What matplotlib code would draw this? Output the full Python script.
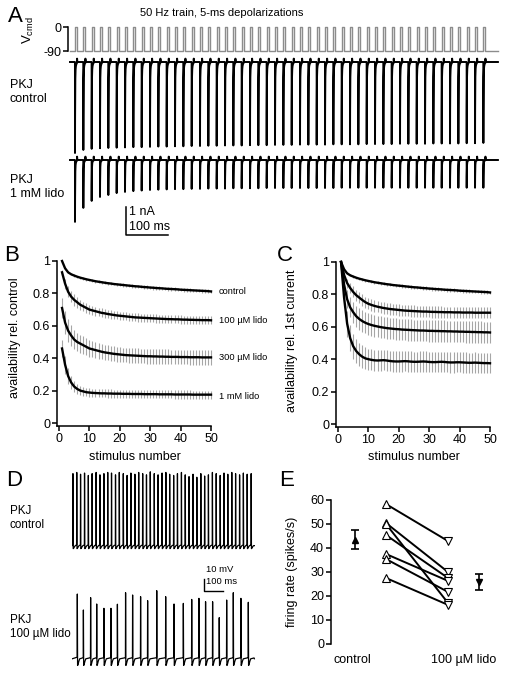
import numpy as np
import matplotlib
matplotlib.use("Agg")
import matplotlib.pyplot as plt

plt.rcParams['font.family'] = ['Liberation Sans', 'DejaVu Sans']
plt.rcParams['mathtext.fontset'] = 'custom'
plt.rcParams['mathtext.rm'] = 'Liberation Sans'
plt.rcParams['mathtext.it'] = 'Liberation Sans:italic'
plt.rcParams['axes.linewidth'] = 1.1
for a in ('xtick', 'ytick'):
    plt.rcParams[a + '.major.width'] = 1.1
    plt.rcParams[a + '.major.size'] = 3.5
    plt.rcParams[a + '.labelsize'] = 9
    plt.rcParams[a + '.direction'] = 'out'

# ---------------- data ----------------
# A: 50 Hz train of 5-ms steps, peak currents per pulse (nA)
n_pulses, period_ms, step_ms, first_ms = 50, 20, 5, 12
ctrl_amp = [3.25, 3.14, 3.10, 3.08, 3.07, 3.06, 3.05, 3.04, 3.04, 3.03,
            3.02, 3.02, 3.01, 3.01, 3.00, 3.00, 2.99, 2.99, 2.98, 2.98,
            2.98, 2.97, 2.97, 2.97, 2.96, 2.96, 2.96, 2.95, 2.95, 2.95,
            2.95, 2.94, 2.94, 2.94, 2.94, 2.93, 2.93, 2.93, 2.93, 2.92,
            2.92, 2.92, 2.92, 2.91, 2.91, 2.91, 2.91, 2.90, 2.90, 2.89]
lido_amp = [2.21, 1.71, 1.46, 1.32, 1.25, 1.18, 1.14, 1.11, 1.09, 1.07,
            1.06, 1.05, 1.04, 1.04, 1.03, 1.03, 1.02, 1.02, 1.02, 1.01,
            1.01, 1.01, 1.01, 1.00, 1.00, 1.00, 1.00, 1.00, 1.00, 1.00,
            1.00, 1.00, 0.99, 0.99, 0.99, 0.99, 0.99, 0.99, 0.99, 0.99,
            0.99, 0.99, 0.99, 0.99, 0.99, 0.99, 0.99, 0.99, 0.99, 0.99]

# B: availability relative to control
stim = np.arange(1, 51)
b_ctrl = [1.000, 0.955, 0.930, 0.918, 0.910, 0.903, 0.897, 0.892, 0.887, 0.883,
          0.879, 0.875, 0.872, 0.869, 0.866, 0.863, 0.861, 0.858, 0.856, 0.854,
          0.852, 0.850, 0.848, 0.846, 0.844, 0.843, 0.841, 0.839, 0.838, 0.836,
          0.835, 0.833, 0.832, 0.831, 0.829, 0.828, 0.827, 0.826, 0.825, 0.823,
          0.822, 0.821, 0.820, 0.819, 0.818, 0.817, 0.816, 0.815, 0.814, 0.812]
b_ctrl_sd = [0.004, 0.005, 0.006, 0.006, 0.007, 0.007, 0.007, 0.008, 0.008, 0.008,
             0.008, 0.008, 0.009, 0.009, 0.009, 0.009, 0.009, 0.009, 0.010, 0.010,
             0.010, 0.010, 0.010, 0.010, 0.010, 0.010, 0.010, 0.010, 0.011, 0.011,
             0.011, 0.011, 0.011, 0.011, 0.011, 0.011, 0.011, 0.011, 0.011, 0.011,
             0.011, 0.011, 0.011, 0.011, 0.011, 0.011, 0.011, 0.011, 0.011, 0.011]
b_100 = [0.930, 0.860, 0.810, 0.780, 0.760, 0.745, 0.730, 0.720, 0.710, 0.700,
         0.695, 0.690, 0.685, 0.680, 0.677, 0.673, 0.670, 0.667, 0.664, 0.662,
         0.660, 0.658, 0.656, 0.654, 0.652, 0.651, 0.650, 0.649, 0.648, 0.647,
         0.646, 0.645, 0.644, 0.643, 0.642, 0.641, 0.641, 0.640, 0.640, 0.639,
         0.638, 0.638, 0.637, 0.637, 0.636, 0.636, 0.635, 0.635, 0.635, 0.634]
b_100_sd = [0.015, 0.030, 0.035, 0.035, 0.035, 0.033, 0.032, 0.030, 0.030, 0.029,
            0.028, 0.028, 0.027, 0.027, 0.026, 0.026, 0.026, 0.025, 0.025, 0.025,
            0.025, 0.025, 0.025, 0.025, 0.025, 0.025, 0.025, 0.025, 0.025, 0.025,
            0.025, 0.025, 0.025, 0.025, 0.025, 0.025, 0.025, 0.025, 0.025, 0.025,
            0.025, 0.025, 0.025, 0.025, 0.025, 0.025, 0.025, 0.025, 0.025, 0.025]
b_300 = [0.710, 0.620, 0.570, 0.540, 0.515, 0.500, 0.490, 0.480, 0.470, 0.460,
         0.455, 0.450, 0.445, 0.440, 0.436, 0.433, 0.430, 0.427, 0.425, 0.423,
         0.421, 0.419, 0.418, 0.417, 0.416, 0.415, 0.414, 0.413, 0.412, 0.412,
         0.411, 0.411, 0.410, 0.410, 0.409, 0.409, 0.408, 0.408, 0.408, 0.407,
         0.407, 0.407, 0.406, 0.406, 0.406, 0.406, 0.405, 0.405, 0.405, 0.405]
b_300_sd = [0.060, 0.070, 0.070, 0.065, 0.060, 0.058, 0.056, 0.054, 0.052, 0.050,
            0.050, 0.049, 0.048, 0.048, 0.047, 0.047, 0.046, 0.046, 0.046, 0.045,
            0.045, 0.045, 0.045, 0.045, 0.045, 0.045, 0.045, 0.045, 0.045, 0.045,
            0.045, 0.045, 0.045, 0.045, 0.045, 0.045, 0.045, 0.045, 0.045, 0.045,
            0.045, 0.045, 0.045, 0.045, 0.045, 0.045, 0.045, 0.045, 0.045, 0.045]
b_1mm = [0.460, 0.360, 0.290, 0.250, 0.225, 0.210, 0.200, 0.195, 0.190, 0.188,
         0.186, 0.185, 0.184, 0.183, 0.183, 0.182, 0.182, 0.181, 0.181, 0.181,
         0.180, 0.180, 0.180, 0.179, 0.179, 0.179, 0.179, 0.178, 0.178, 0.178,
         0.178, 0.178, 0.177, 0.177, 0.177, 0.177, 0.177, 0.176, 0.176, 0.176,
         0.176, 0.176, 0.176, 0.175, 0.175, 0.175, 0.175, 0.175, 0.175, 0.175]
b_1mm_sd = [0.050, 0.055, 0.050, 0.040, 0.035, 0.030, 0.028, 0.027, 0.026, 0.025,
            0.025, 0.025, 0.025, 0.025, 0.025, 0.025, 0.025, 0.025, 0.025, 0.025,
            0.025, 0.025, 0.025, 0.025, 0.025, 0.025, 0.025, 0.025, 0.025, 0.025,
            0.025, 0.025, 0.025, 0.025, 0.025, 0.025, 0.025, 0.025, 0.025, 0.025,
            0.025, 0.025, 0.025, 0.025, 0.025, 0.025, 0.025, 0.025, 0.025, 0.025]
b_labels = ['control', '100 µM lido', '300 µM lido', '1 mM lido']

# C: availability relative to 1st current
c_100 = [1.000, 0.920, 0.870, 0.840, 0.815, 0.795, 0.780, 0.765, 0.752, 0.742,
         0.735, 0.729, 0.724, 0.720, 0.716, 0.713, 0.710, 0.708, 0.706, 0.704,
         0.702, 0.700, 0.699, 0.698, 0.697, 0.696, 0.695, 0.694, 0.694, 0.693,
         0.692, 0.692, 0.691, 0.691, 0.690, 0.690, 0.690, 0.689, 0.689, 0.689,
         0.688, 0.688, 0.688, 0.688, 0.687, 0.687, 0.687, 0.687, 0.687, 0.687]
c_100_sd = [0.000, 0.020, 0.028, 0.032, 0.034, 0.035, 0.035, 0.035, 0.035, 0.035,
            0.035, 0.035, 0.035, 0.035, 0.035, 0.035, 0.035, 0.035, 0.035, 0.035,
            0.035, 0.035, 0.035, 0.035, 0.035, 0.035, 0.035, 0.035, 0.035, 0.035,
            0.035, 0.035, 0.035, 0.035, 0.035, 0.035, 0.035, 0.035, 0.035, 0.035,
            0.035, 0.035, 0.035, 0.035, 0.035, 0.035, 0.035, 0.035, 0.035, 0.035]
c_300 = [1.000, 0.860, 0.770, 0.720, 0.690, 0.665, 0.648, 0.635, 0.625, 0.617,
         0.611, 0.606, 0.602, 0.598, 0.595, 0.592, 0.590, 0.588, 0.586, 0.585,
         0.583, 0.582, 0.581, 0.580, 0.579, 0.578, 0.577, 0.577, 0.576, 0.575,
         0.575, 0.574, 0.574, 0.573, 0.573, 0.572, 0.572, 0.571, 0.571, 0.570,
         0.570, 0.569, 0.569, 0.568, 0.568, 0.567, 0.567, 0.566, 0.566, 0.565]
c_300_sd = [0.000, 0.040, 0.055, 0.062, 0.065, 0.066, 0.066, 0.066, 0.066, 0.066,
            0.066, 0.066, 0.066, 0.066, 0.066, 0.066, 0.066, 0.066, 0.066, 0.066,
            0.066, 0.066, 0.066, 0.066, 0.066, 0.066, 0.066, 0.066, 0.066, 0.066,
            0.066, 0.066, 0.066, 0.066, 0.066, 0.066, 0.066, 0.066, 0.066, 0.066,
            0.066, 0.066, 0.066, 0.066, 0.066, 0.066, 0.066, 0.066, 0.066, 0.066]
c_1mm = [1.000, 0.780, 0.620, 0.530, 0.480, 0.450, 0.430, 0.415, 0.405, 0.400,
         0.396, 0.393, 0.392, 0.393, 0.394, 0.392, 0.389, 0.387, 0.386, 0.386,
         0.387, 0.388, 0.387, 0.385, 0.384, 0.384, 0.385, 0.386, 0.385, 0.383,
         0.382, 0.382, 0.383, 0.384, 0.383, 0.381, 0.380, 0.380, 0.381, 0.381,
         0.380, 0.379, 0.378, 0.378, 0.379, 0.378, 0.377, 0.376, 0.376, 0.375]
c_1mm_sd = [0.000, 0.060, 0.080, 0.080, 0.078, 0.075, 0.072, 0.070, 0.068, 0.066,
            0.065, 0.064, 0.064, 0.063, 0.063, 0.063, 0.063, 0.063, 0.063, 0.063,
            0.063, 0.063, 0.063, 0.063, 0.063, 0.063, 0.063, 0.063, 0.063, 0.063,
            0.063, 0.063, 0.063, 0.063, 0.063, 0.063, 0.063, 0.063, 0.063, 0.063,
            0.063, 0.063, 0.063, 0.063, 0.063, 0.063, 0.063, 0.063, 0.063, 0.063]

# D: spike times (ms) and peak voltages (mV)
d_ctrl_t = [5, 25, 45, 66, 86, 106, 127, 147, 168, 188, 208, 229, 249, 270, 290, 310,
            331, 351, 372, 392, 412, 433, 453, 474, 494, 514, 535, 555, 576, 596, 616,
            637, 657, 678, 698, 718, 739, 759, 780, 800, 820, 841, 861, 882, 902, 922, 943]
d_ctrl_v = [2.0, 3.0, 1.5, 2.5, 0.5, 2.0, 3.0, 1.0, 2.0, 3.0, 2.5, 1.0, 3.0, 2.0, 0.5, 2.5,
            1.5, 3.0, 2.0, 1.0, 3.5, 2.0, 1.0, 2.5, 3.0, 1.5, 0.5, 2.0, 3.0, 1.0, -0.5,
            1.5, -1.0, 2.0, 0.0, 1.0, 3.0, 2.0, 0.5, 2.5, 1.5, 3.0, 2.0, 1.0, 2.5, 1.5, 2.0]
d_lido_t = [28, 60, 98, 130, 168, 205, 239, 282, 319, 361, 398, 446, 493, 537, 586,
            630, 668, 703, 740, 775, 814, 849, 889, 928]
d_lido_v = [-2.5, -15.8, -5.5, -10.8, -14.4, -14.4, -11.0, -1.4, -3.3, -4.7, -8.0, 0.3,
            -4.7, -10.8, -10.3, -7.0, -6.1, -8.9, -8.9, -22.2, -7.5, -1.4, -6.1, -9.4]

# E: firing rate (spikes/s), paired cells
e_ctrl = [58.3, 50.4, 50.0, 45.4, 37.5, 35.4, 27.5]
e_lido = [42.9, 30.0, 17.1, 27.5, 26.3, 21.7, 16.3]
e_mean = [43.5, 25.8]
e_sem = [4.1, 3.5]
e_groups = ['control', '100 µM lido']

# ---------------- figure ----------------
W, H = 505, 673
fig = plt.figure(figsize=(W / 100, H / 100), dpi=100)


def box(l, t, r, b):
    return [l / W, 1 - b / H, (r - l) / W, (b - t) / H]


def bare(ax):
    for s in ax.spines.values():
        s.set_visible(False)
    ax.set_xticks([]); ax.set_yticks([])
    ax.patch.set_visible(False)


PX_MS = 0.4167  # panel A time scale (px per ms)
xl_A = (-2 / PX_MS, (500 - 70) / PX_MS)

# A: command voltage
ax = fig.add_axes(box(68, 27, 500, 51))
ax.patch.set_visible(False)
on = first_ms + period_ms * np.arange(n_pulses)
tv = np.concatenate([[0], np.repeat(np.column_stack([on, on + step_ms]).ravel(), 2), [1027]])
vv = np.concatenate([[-90], np.tile([-90, 0, 0, -90], n_pulses), [-90]])
ax.plot(tv, vv, color='#8c8c8c', lw=1.0, clip_on=False)
ax.set_xlim(*xl_A); ax.set_ylim(-90, 0)
for s in ('top', 'right', 'bottom'):
    ax.spines[s].set_visible(False)
ax.set_xticks([])
ax.set_yticks([-90, 0]); ax.set_yticklabels(['-90', '0'])
ax.tick_params(axis='y', pad=1)


def current_trace(amps):
    t = np.arange(0, 1027, 0.1)
    i = np.zeros_like(t)
    for k, a in enumerate(amps):
        dt = t - on[k]
        m = (dt >= 0) & (dt < step_ms)
        i[m] -= a * (0.85 * np.exp(-dt[m] / 0.35) + 0.15 * np.exp(-dt[m] / 1.8))
        m2 = (dt >= step_ms) & (dt < step_ms + 2)
        i[m2] += 0.12 * np.exp(-(dt[m2] - step_ms) / 0.3)
    return t, i


for amps, (top, bot, base) in ((ctrl_amp, (55, 160, 62)), (lido_amp, (153, 240, 160))):
    ax = fig.add_axes(box(68, top, 500, bot))
    bare(ax)
    t, i = current_trace(amps)
    ax.plot(t, i, color='k', lw=1.4)
    ax.set_xlim(*xl_A)
    ax.set_ylim(-(bot - base) / 28, (base - top) / 28)
    if amps is lido_amp:
        t0 = (126 - 70) / PX_MS
        yb = -(235 - base) / 28
        ax.plot([t0, t0, t0 + 100], [yb + 1, yb, yb], color='k', lw=1.1, clip_on=False)
        ax.text(t0 + 8, yb + 0.82, '1 nA', fontsize=9, va='center')
        ax.text(t0 + 8, yb + 0.30, '100 ms', fontsize=9, va='center')


# B and C
def avail(ax, curves):
    for m, sd in curves:
        ax.errorbar(stim, m, yerr=sd, fmt='none', ecolor='#a6a6a6', elinewidth=0.8,
                    capsize=0, zorder=1, clip_on=False)
    for m, sd in curves:
        ax.plot(stim, m, color='k', lw=1.7, zorder=3, clip_on=False)
    ax.set_xlim(-0.66, 50.33)
    ax.set_ylim(-0.0185, 1)
    ax.spines['top'].set_visible(False); ax.spines['right'].set_visible(False)
    ax.spines['bottom'].set_bounds(-0.66, 50)
    ax.set_xticks([0, 10, 20, 30, 40, 50])
    ax.set_yticks([0, 0.2, 0.4, 0.6, 0.8, 1.0])
    ax.set_yticklabels(['0', '0.2', '0.4', '0.6', '0.8', '1'])
    ax.tick_params(pad=1.5)
    ax.patch.set_visible(False)


axB = fig.add_axes(box(57, 261, 212, 426))
avail(axB, [(b_ctrl, b_ctrl_sd), (b_100, b_100_sd), (b_300, b_300_sd), (b_1mm, b_1mm_sd)])
for lab, m, dy in zip(b_labels, (b_ctrl, b_100, b_300, b_1mm), (0, 0, 0, -0.01)):
    axB.text(52.5, m[-1] + dy, lab, fontsize=6.7, va='center', ha='left')

axC = fig.add_axes(box(336, 262, 491, 427))
avail(axC, [(b_ctrl, b_ctrl_sd), (c_100, c_100_sd), (c_300, c_300_sd), (c_1mm, c_1mm_sd)])


# D: current clamp traces
D_PX_MS = 0.19


def vm_trace(times, peaks, t_end, trough, rest):
    pts = [(0.0, rest)]
    for k, (ts, vp) in enumerate(zip(times, peaks)):
        nxt = times[k + 1] if k + 1 < len(times) else t_end
        g = nxt - ts
        d = rest - trough
        pts += [(ts - 0.8, rest + 0.25 * d), (ts, vp), (ts + 1.4, trough),
                (ts + 3.5, trough + 0.1 * d), (ts + 6.5, trough + 0.5 * d),
                (ts + min(12.0, 0.7 * g), rest)]
        if g > 20:
            pts.append((nxt - 2.0, rest + 0.15 * d))
    pts.append((t_end, rest))
    x, y = np.array(pts).T
    tt = np.arange(0, t_end, 0.2)
    return tt, np.interp(tt, x, y)


for (tt_, vv_), (top, bot), (tr, rs) in (((d_ctrl_t, d_ctrl_v), (465, 555), (-60.5, -58.0)),
                                          ((d_lido_t, d_lido_v), (580, 670), (-62.0, -56.5))):
    ax = fig.add_axes(box(72, top, 258, bot))
    bare(ax)
    t, v = vm_trace(tt_, vv_, 960, tr, rs)
    ax.plot(t, v, color='k', lw=0.9)
    ax.set_xlim(0, (258 - 72) / D_PX_MS)
    ax.set_ylim(-65.8, -65.8 + (bot - top) / 1.2)
    if top == 580:
        x0 = (204 - 72) / D_PX_MS
        ax.plot([x0, x0, x0 + 100], [10, 0, 0], color='k', lw=1.0, clip_on=False)
        ax.text(x0 + 12, 18, '10 mV', fontsize=6.8, va='center', clip_on=False)
        ax.text(x0 + 12, 8, '100 ms', fontsize=6.8, va='center', clip_on=False)

# E: firing rate
axE = fig.add_axes(box(331, 500, 500, 644))
axE.patch.set_visible(False)
for l, r in zip(e_ctrl, e_lido):
    axE.plot([0.25, 0.75], [l, r], color='k', lw=1.4, zorder=2)
axE.plot([0.25] * len(e_ctrl), e_ctrl, ls='none', marker='^', ms=6, mfc='white',
         mec='k', mew=0.8, zorder=3, clip_on=False)
axE.plot([0.75] * len(e_lido), e_lido, ls='none', marker='v', ms=6, mfc='white',
         mec='k', mew=0.8, zorder=3, clip_on=False)
axE.errorbar([0], [e_mean[0]], yerr=[e_sem[0]], fmt='^', color='k', ms=4.5, capsize=3,
             elinewidth=1.2, capthick=1.2)
axE.errorbar([1], [e_mean[1]], yerr=[e_sem[1]], fmt='v', color='k', ms=4.5, capsize=3,
             elinewidth=1.2, capthick=1.2)
axE.set_xlim(-(355 - 331) / 124, (500 - 355) / 124)
axE.set_ylim(0, 60)
for s in ('top', 'right', 'bottom'):
    axE.spines[s].set_visible(False)
axE.set_xticks([])
axE.set_yticks(range(0, 61, 10))
axE.tick_params(axis='y', pad=1.5)

# ---------------- text overlay (pixel coordinates) ----------------
ov = fig.add_axes([0, 0, 1, 1])
ov.set_xlim(0, W); ov.set_ylim(H, 0); ov.axis('off')
for lab, x, y in (('A', 8, 6), ('B', 4, 245), ('C', 277, 245), ('D', 6, 470), ('E', 279, 470)):
    ov.text(x, y, lab, fontsize=16, va='top', ha='left')
ov.text(222, 13, '50 Hz train, 5-ms depolarizations', fontsize=8, ha='center', va='center')
ov.text(28, 30, r'V$_{\rm cmd}$', fontsize=9.5, rotation=90, ha='center', va='center')
ov.text(10, 92, 'PKJ\ncontrol', fontsize=9, ha='left', va='center', linespacing=1.15)
ov.text(10, 187, 'PKJ\n1 mM lido', fontsize=9, ha='left', va='center', linespacing=1.15)
ov.text(15, 338, 'availability rel. control', fontsize=9, rotation=90, ha='center', va='center')
ov.text(292, 341, 'availability rel. 1st current', fontsize=9, rotation=90, ha='center', va='center')
ov.text(135, 457, 'stimulus number', fontsize=9, ha='center', va='center')
ov.text(414, 457, 'stimulus number', fontsize=9, ha='center', va='center')
ov.text(10, 518, 'PKJ\ncontrol', fontsize=8.4, ha='left', va='center', linespacing=1.15)
ov.text(10, 627, 'PKJ\n100 µM lido', fontsize=8.4, ha='left', va='center', linespacing=1.15)
ov.text(292, 572, 'firing rate (spikes/s)', fontsize=9, rotation=90, ha='center', va='center')
ov.text(352, 660, e_groups[0], fontsize=9, ha='center', va='center')
ov.text(464, 660, e_groups[1], fontsize=9, ha='center', va='center')

fig.savefig('out.png', dpi=100)
